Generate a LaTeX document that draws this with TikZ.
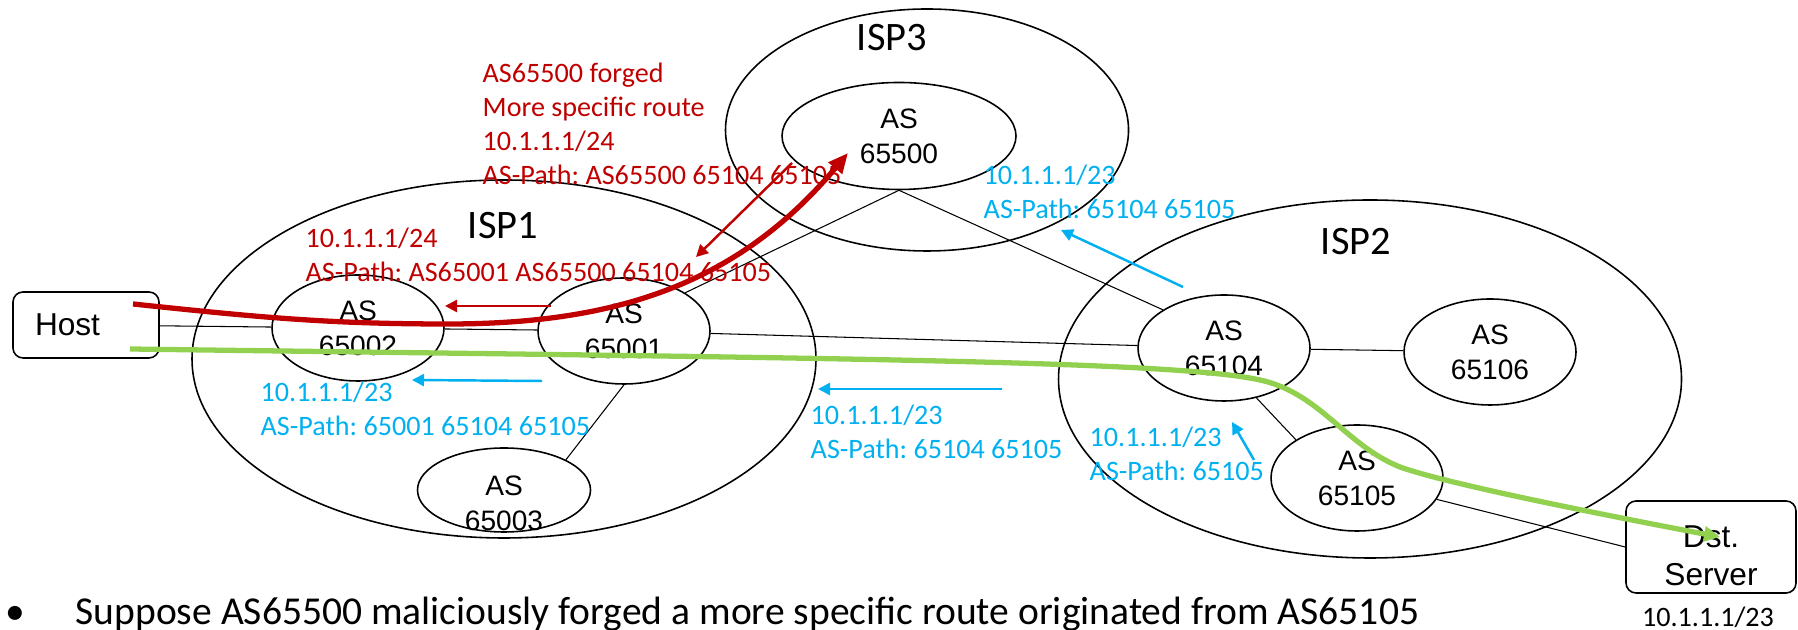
\documentclass[tikz,border=0pt]{standalone}
\usepackage{fontspec}
\setmainfont{Carlito}
\newfontfamily\arialfont{Liberation Sans}
\usetikzlibrary{shapes.geometric, arrows.meta}
\definecolor{hijackred}{HTML}{C00000}
\definecolor{advblue}{HTML}{00B0F0}
\definecolor{trafficgreen}{HTML}{92D050}
\frenchspacing

\begin{document}
\begin{tikzpicture}[x=0.1mm, y=-0.1mm,
    isp/.style={draw, ellipse, line width=0.45pt, inner sep=0pt},
    ispname/.style={font=\fontsize{11.5}{13}\selectfont},
    asnode/.style={draw, ellipse, line width=0.45pt, inner sep=0pt,
      minimum width=17.2mm, minimum height=10.6mm, align=center,
      font=\arialfont\fontsize{8}{10}\selectfont},
    endbox/.style={draw, rounded corners=1mm, line width=0.45pt,
      font=\arialfont\fontsize{9}{10.8}\selectfont},
    link/.style={line width=0.3pt},
    redtxt/.style={anchor=north west, inner sep=0pt, align=left,
      text=hijackred, font=\fontsize{8}{9.7}\selectfont},
    bluetxt/.style={redtxt, text=advblue},
    redadv/.style={hijackred, line width=0.7pt, -{Triangle[length=1.2mm, width=1.2mm]}},
    blueadv/.style={advblue, line width=0.7pt, -{Triangle[length=1.2mm, width=1.2mm]}}]
  \useasboundingbox (0,0) rectangle (1798,630);

  \node[isp, minimum width=62.4mm, minimum height=35.8mm] (isp1) at (504,359) {};
  \node[isp, minimum width=62.3mm, minimum height=35.8mm] (isp2) at (1370,379) {};
  \node[isp, minimum width=40.3mm, minimum height=24.2mm] (isp3) at (927,130) {};
  \node[ispname] (isp1name) at (503,226) {ISP1};
  \node[ispname] (isp2name) at (1356,242) {ISP2};
  \node[ispname] (isp3name) at (892,38) {ISP3};

  \node[asnode, minimum width=23.4mm, minimum height=10.7mm] (as65500) at (899,136) {AS\\65500};
  \node[asnode] (as65002) at (358,328) {AS\\65002};
  \node[asnode] (as65001) at (624,331) {AS\\65001};
  \node[asnode, minimum width=17.3mm, minimum height=8.4mm,
    label={[align=center, font=\arialfont\fontsize{8}{10}\selectfont, yshift=-1.35mm]center:AS\\65003}]
    (as65003) at (504,490) {};
  \node[asnode] (as65104) at (1224,348) {AS\\65104};
  \node[asnode] (as65106) at (1490,352) {AS\\65106};
  \node[asnode] (as65105) at (1357,478) {AS\\65105};

  \node[endbox, minimum height=6.6mm, text width=10.2mm, inner xsep=2.2mm, align=left] (host) at (86,325) {Host};
  \node[endbox, minimum width=17mm, minimum height=9.2mm, inner ysep=0pt, align=center] (dst) at (1711,547) {\rule{0pt}{3.9mm}Dst.\\Server};
  \node[font=\fontsize{8}{9.7}\selectfont] (dstnet) at (1708,617) {10.1.1.1/23};

  \draw[link] (host) -- (as65002);
  \draw[link] (as65002) -- (as65001);
  \draw[link] (as65001) -- (as65104);
  \draw[link] (as65001.south) -- (as65003.26);
  \draw[link] (as65001.32) -- (as65500.south);
  \draw[link] (as65500.south) -- (as65104.148);
  \draw[link] (as65104) -- (as65106);
  \draw[link] (as65104.-57) -- (as65105.148);
  \draw[link] (as65105.-15) -- (dst.west);

  \node[redtxt] (forged) at (482,62) {AS65500 forged\\More specific route\\10.1.1.1/24\\AS-Path: AS65500 65104 65105};
  \node[redtxt] (fakepath) at (305,227) {10.1.1.1/24\\AS-Path: AS65001 AS65500 65104 65105};
  \node[bluetxt] (path3) at (983,164) {10.1.1.1/23\\AS-Path: 65104 65105};
  \node[bluetxt] (path1) at (260,381) {10.1.1.1/23\\AS-Path: 65001 65104 65105};
  \node[bluetxt] (path2) at (810,404) {10.1.1.1/23\\AS-Path: 65104 65105};
  \node[bluetxt] (path0) at (1089,426) {10.1.1.1/23\\AS-Path: 65105};

  \coordinate (r1) at (551,306);
  \coordinate (r2) at (445,306);
  \coordinate (r3) at (792,163);
  \coordinate (r4) at (696,257);
  \draw[redadv] (r1) -- (r2);
  \draw[redadv] (r3) -- (r4);

  \coordinate (b1) at (542,381);
  \coordinate (b2) at (412,380);
  \coordinate (b3) at (1002,389);
  \coordinate (b4) at (818,389);
  \coordinate (b5) at (1183,287);
  \coordinate (b6) at (1061,230);
  \coordinate (b7) at (1254,460);
  \coordinate (b8) at (1232,422);
  \draw[blueadv] (b1) -- (b2);
  \draw[blueadv] (b3) -- (b4);
  \draw[blueadv] (b5) -- (b6);
  \draw[blueadv] (b7) -- (b8);

  \coordinate (hoststart) at (133,304);
  \coordinate (fakeend) at (848,153);
  \draw[hijackred, line width=1.5pt, -{Triangle[length=2mm, width=1.7mm]}]
    (hoststart) to[out=-6, in=180] (448,324) to[out=0, in=230] (fakeend);

  \coordinate (greenstart) at (130,349);
  \coordinate (greenend) at (1720,537);
  \draw[trafficgreen, line width=1.5pt, -{Triangle[length=1.6mm, width=1.5mm]}]
    (greenstart) .. controls (800,358) and (1170,360) .. (1260,380)
    .. controls (1320,393) and (1345,445) .. (1400,467)
    .. controls (1450,485) and (1620,518) .. (greenend);

  \node[anchor=base west, inner sep=0pt, font=\fontsize{11.25}{13}\selectfont] (note) at (75,625)
    {\llap{\textbullet\hspace{5.1mm}}Suppose AS65500 maliciously forged a more specific route originated from AS65105};
\end{tikzpicture}
\end{document}
